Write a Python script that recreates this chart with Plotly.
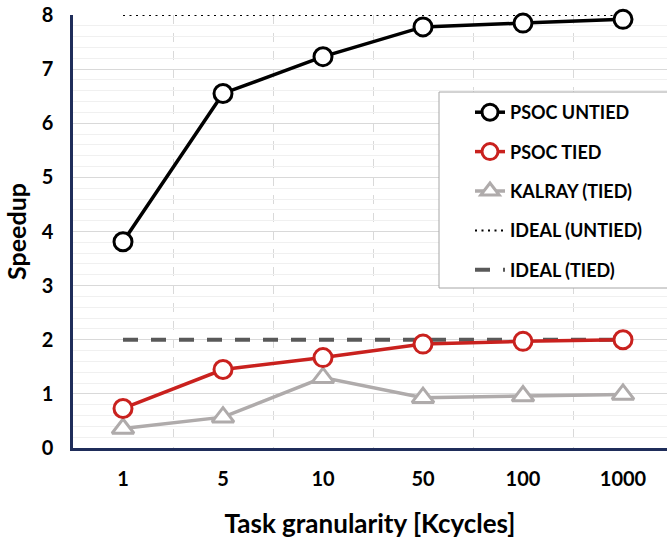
import plotly.graph_objects as go

categories = ["1", "5", "10", "50", "100", "1000"]
psoc_untied = [3.81, 6.55, 7.23, 7.78, 7.85, 7.92]
psoc_tied = [0.73, 1.45, 1.67, 1.92, 1.97, 2.0]
kalray_tied = [0.36, 0.57, 1.30, 0.93, 0.96, 0.99]
ideal_untied = [8, 8, 8, 8, 8, 8]
ideal_tied = [2, 2, 2, 2, 2, 2]
y_ticks = [0, 1, 2, 3, 4, 5, 6, 7, 8]

xs = list(range(len(categories)))
FONT = "Lato"
NAVY = "#1F2D5A"

W, H = 667, 541
ML, MR, MT, MB = 73, 0, 15, 93
PW, PH = W - ML - MR, H - MT - MB


def px_to_paper_x(px):
    return (px - ML) / PW


def px_to_paper_y(py):
    return (H - MB - py) / PH


fig = go.Figure()

fig.add_trace(go.Scatter(x=xs, y=ideal_untied, mode="lines", name="IDEAL (UNTIED)",
                         line=dict(color="black", width=2, dash="2px,4.5px"),
                         legendrank=4, legendgroup="d", cliponaxis=False))
fig.add_trace(go.Scatter(x=xs, y=ideal_tied, mode="lines", name="IDEAL (TIED)",
                         line=dict(color="#595959", width=4, dash="15px,13px"),
                         legendrank=5, legendgroup="e", cliponaxis=False))
fig.add_trace(go.Scatter(x=xs, y=kalray_tied, mode="lines+markers", name="KALRAY (TIED)",
                         line=dict(color="#AFABAB", width=3.5),
                         marker=dict(symbol="triangle-up", size=19, color="white",
                                     line=dict(color="#AFABAB", width=3)),
                         legendrank=3, legendgroup="c", cliponaxis=False))
fig.add_trace(go.Scatter(x=xs, y=psoc_tied, mode="lines+markers", name="PSOC TIED",
                         line=dict(color="#C9211E", width=3.5),
                         marker=dict(symbol="circle", size=18, color="white",
                                     line=dict(color="#C9211E", width=3)),
                         legendrank=2, legendgroup="b", cliponaxis=False))
fig.add_trace(go.Scatter(x=xs, y=psoc_untied, mode="lines+markers", name="PSOC UNTIED",
                         line=dict(color="black", width=3.5),
                         marker=dict(symbol="circle", size=18, color="white",
                                     line=dict(color="black", width=3)),
                         legendrank=1, legendgroup="a", cliponaxis=False))

# legend frame
fig.add_shape(type="rect", xref="paper", yref="paper",
              x0=px_to_paper_x(439), x1=px_to_paper_x(668),
              y0=px_to_paper_y(288), y1=px_to_paper_y(92),
              line=dict(color="#A6A6A6", width=1), fillcolor="white", layer="above")

fig.update_layout(
    width=W, height=H,
    margin=dict(l=ML, r=MR, t=MT, b=MB),
    paper_bgcolor="white", plot_bgcolor="white",
    font=dict(family=FONT, color="black"),
    showlegend=True,
    legend=dict(x=px_to_paper_x(470), y=px_to_paper_y(94), xanchor="left", yanchor="top",
                bgcolor="rgba(0,0,0,0)", borderwidth=0,
                font=dict(family=FONT, size=18, color="black", weight="bold"),
                tracegroupgap=13, traceorder="grouped"),
    xaxis=dict(
        range=[-0.5, 5.44], tickmode="array", tickvals=xs, ticktext=categories,
        showgrid=False, zeroline=False, automargin=False,
        showline=True, linecolor=NAVY, linewidth=2.5,
        ticks="", ticklabelstandoff=11,
        tickfont=dict(family=FONT, size=20, weight="bold"),
        minor=dict(tickmode="array", tickvals=[0.5, 1.5, 2.5, 3.5, 4.5],
                   showgrid=True, gridcolor="#D9D9D9", griddash="dash", gridwidth=1, ticks=""),
        title=dict(text="Task granularity [Kcycles]", standoff=27,
                   font=dict(family=FONT, size=26, weight="bold")),
    ),
    yaxis=dict(
        range=[0, 8], tickmode="array", tickvals=y_ticks,
        showgrid=True, gridcolor="#D9D9D9", gridwidth=1, zeroline=False, automargin=False,
        showline=True, linecolor=NAVY, linewidth=2.5,
        ticks="", ticklabelstandoff=13,
        tickfont=dict(family=FONT, size=20, weight="bold"),
        minor=dict(dtick=0.2, tick0=0, showgrid=True, gridcolor="#F0F0F0", gridwidth=1, ticks=""),
        title=dict(text="Speedup", standoff=8,
                   font=dict(family=FONT, size=25, weight="bold")),
    ),
)

fig.write_html("out.html", config={"displayModeBar": False},
               post_script="document.body.style.margin='0';")
